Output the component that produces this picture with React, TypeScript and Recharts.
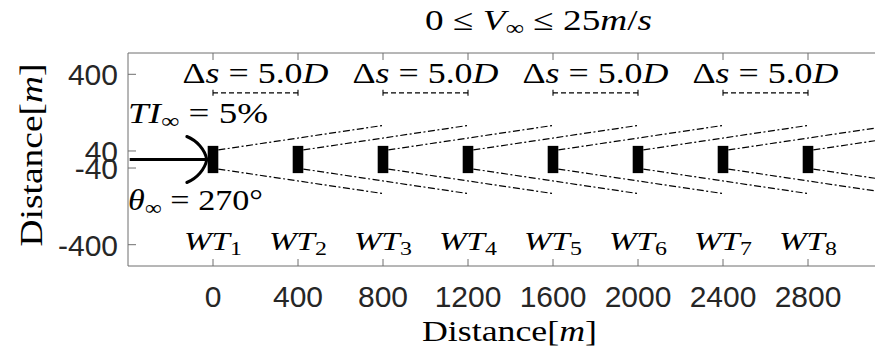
import React from 'react';
import { ComposedChart, Line, XAxis, YAxis, ReferenceArea, Scatter, Customized } from 'recharts';

// ---- data ----
const turbineX = [0, 400, 800, 1200, 1600, 2000, 2400, 2800];
const turbineIndex = ['1', '2', '3', '4', '5', '6', '7', '8'];
const xTicks = [0, 400, 800, 1200, 1600, 2000, 2400, 2800];
const yTicks = [-400, -40, 40, 400];
const xDomain = [-400, 3200];
const yDomain = [-500, 500];

const turbineHalfWidth = 25;
const turbineHalfHeight = 64;

const wakeStartOffset = 25;
const wakeEndOffset = 800;
const wakeStartHalf = 45;
const wakeEndHalf = 160;

const spacingPairs: [number, number][] = [
  [0, 400],
  [800, 1200],
  [1600, 2000],
  [2400, 2800],
];
const spacingValue = '5.0';
const bracketY = 313;
const bracketCap = 14;
const spacingLabelY = 358;
const turbineLabelY = -426;

const inflowShaft = [
  { x: -392, y: 0 },
  { x: -32, y: 0 },
];
const inflowTip = [{ x: -29, y: 0 }];

const tiLabel = [{ x: -400, y: 170 }];
const thetaLabel = [{ x: -400, y: -238 }];

// ---- styles ----
const AXIS = '#6f6f6f';
const TICKTXT = '#262626';
const SERIF = '"Liberation Serif", "Times New Roman", serif';
const SANS = '"Liberation Sans", Arial, Helvetica, sans-serif';

const BottomTick = (props: any) => {
  const { x, y, payload } = props;
  return (
    <g>
      <line x1={x} x2={x} y1={y} y2={y - 7} stroke={AXIS} strokeWidth={1} />
      <text x={x} y={y + 41} textAnchor="middle" fontFamily={SANS} fontSize={30} fill={TICKTXT}>
        {payload.value}
      </text>
    </g>
  );
};

const TopTick = (props: any) => {
  const { x, y } = props;
  return <line x1={x} x2={x} y1={y} y2={y + 7} stroke={AXIS} strokeWidth={1} />;
};

const LeftTick = (props: any) => {
  const { x, y, payload } = props;
  return (
    <g>
      <line x1={x} x2={x + 8} y1={y} y2={y} stroke={AXIS} strokeWidth={1} />
      <text x={x - 10} y={y + 11} textAnchor="end" fontFamily={SANS} fontSize={30} fill={TICKTXT}>
        {payload.value}
      </text>
    </g>
  );
};

const SpacingText = (props: any) => {
  const { cx, cy } = props;
  return (
    <text x={cx} y={cy} textAnchor="middle" fontFamily={SERIF} fontSize={29} fill="#000" textLength={146} lengthAdjust="spacingAndGlyphs">
      Δ<tspan fontStyle="italic">s</tspan>{' = ' + spacingValue}<tspan fontStyle="italic">D</tspan>
    </text>
  );
};

const TurbineText = (props: any) => {
  const { cx, cy, payload } = props;
  return (
    <text x={cx} y={cy} textAnchor="middle" fontFamily={SERIF} fontSize={25} fill="#000" textLength={58} lengthAdjust="spacingAndGlyphs">
      <tspan fontStyle="italic">WT</tspan>
      <tspan fontSize={18} dy={5}>{payload.sub}</tspan>
    </text>
  );
};

const TIText = (props: any) => {
  const { cx, cy } = props;
  return (
    <text x={cx} y={cy} textAnchor="start" fontFamily={SERIF} fontSize={30} fill="#000" textLength={140} lengthAdjust="spacingAndGlyphs">
      <tspan fontStyle="italic">TI</tspan>
      <tspan fontSize={21} dy={5}>∞</tspan>
      <tspan dy={-5}>{' = 5%'}</tspan>
    </text>
  );
};

const ThetaText = (props: any) => {
  const { cx, cy } = props;
  return (
    <text x={cx} y={cy} textAnchor="start" fontFamily={SERIF} fontSize={30} fill="#000" textLength={135} lengthAdjust="spacingAndGlyphs">
      <tspan fontStyle="italic">θ</tspan>
      <tspan fontSize={21} dy={5}>∞</tspan>
      <tspan dy={-5}>{' = 270°'}</tspan>
    </text>
  );
};

const ArrowHead = (props: any) => {
  const { cx, cy } = props;
  const d = `M${cx - 20},${cy - 23} C${cx - 10},${cy - 19} ${cx - 2},${cy - 10} ${cx},${cy} C${cx - 2},${cy + 10} ${cx - 10},${cy + 19} ${cx - 20},${cy + 23}`;
  return <path d={d} fill="none" stroke="#000" strokeWidth={3} strokeLinecap="round" />;
};

const Frame = () => (
  <g>
    <text x={425} y={30} fontFamily={SERIF} fontSize={30} fill="#000" textLength={227} lengthAdjust="spacingAndGlyphs">
      {'0 ≤ '}
      <tspan fontStyle="italic">V</tspan>
      <tspan fontSize={21} dy={5}>∞</tspan>
      <tspan dy={-5}>{' ≤ 25'}</tspan>
      <tspan fontStyle="italic">m</tspan>/<tspan fontStyle="italic">s</tspan>
    </text>
    <text x={422} y={341} fontFamily={SERIF} fontSize={29} fill="#000" textLength={175} lengthAdjust="spacingAndGlyphs">
      Distance[<tspan fontStyle="italic">m</tspan>]
    </text>
    <text x={42} y={155} transform="rotate(-90 42 155)" textAnchor="middle" fontFamily={SERIF} fontSize={31} fill="#000" textLength={183} lengthAdjust="spacingAndGlyphs">
      Distance[<tspan fontStyle="italic">m</tspan>]
    </text>
  </g>
);

export default function App() {
  const wakeLines: { key: string; data: { x: number; y: number }[] }[] = [];
  turbineX.forEach((t, i) => {
    [1, -1].forEach((s) => {
      wakeLines.push({
        key: `w${i}${s}`,
        data: [
          { x: t + wakeStartOffset, y: s * wakeStartHalf },
          { x: t + wakeEndOffset, y: s * wakeEndHalf },
        ],
      });
    });
  });
  const bracketLines: { key: string; data: { x: number; y: number }[]; dash?: string }[] = [];
  spacingPairs.forEach(([a, b], i) => {
    bracketLines.push({ key: `bh${i}`, data: [{ x: a, y: bracketY }, { x: b, y: bracketY }], dash: '5 3' });
    bracketLines.push({ key: `bl${i}`, data: [{ x: a, y: bracketY - bracketCap }, { x: a, y: bracketY + bracketCap }] });
    bracketLines.push({ key: `br${i}`, data: [{ x: b, y: bracketY - bracketCap }, { x: b, y: bracketY + bracketCap }] });
  });
  const spacingLabels = spacingPairs.map(([a, b]) => ({ x: (a + b) / 2, y: spacingLabelY }));
  const turbineLabels = turbineX.map((t, i) => ({ x: t, y: turbineLabelY, sub: turbineIndex[i] }));

  return (
    <div style={{ margin: -8, width: 883, height: 356, overflow: 'hidden', background: '#fff' }}>
      <ComposedChart width={900} height={356} margin={{ top: 52, right: 7, bottom: 89, left: 127 }}>
        <XAxis
          type="number"
          dataKey="x"
          domain={xDomain}
          ticks={xTicks}
          interval={0}
          allowDataOverflow
          height={1}
          tickSize={0}
          tickMargin={0}
          tickLine={false}
          axisLine={{ stroke: AXIS, strokeWidth: 1 }}
          tick={BottomTick}
        />
        <XAxis
          xAxisId="top"
          orientation="top"
          type="number"
          dataKey="x"
          domain={xDomain}
          ticks={xTicks}
          interval={0}
          allowDataOverflow
          height={1}
          tickSize={0}
          tickMargin={0}
          tickLine={false}
          axisLine={{ stroke: AXIS, strokeWidth: 1 }}
          tick={TopTick}
        />
        <YAxis
          type="number"
          dataKey="y"
          domain={yDomain}
          ticks={yTicks}
          interval={0}
          allowDataOverflow
          width={1}
          tickSize={0}
          tickMargin={0}
          tickLine={false}
          axisLine={{ stroke: AXIS, strokeWidth: 1 }}
          tick={LeftTick}
        />
        {turbineX.map((t, i) => (
          <ReferenceArea
            key={`t${i}`}
            x1={t - turbineHalfWidth}
            x2={t + turbineHalfWidth}
            y1={-turbineHalfHeight}
            y2={turbineHalfHeight}
            fill="#000"
            fillOpacity={1}
            stroke="none"
            ifOverflow="visible"
          />
        ))}
        {wakeLines.map((w) => (
          <Line
            key={w.key}
            data={w.data}
            dataKey="y"
            type="linear"
            stroke="#000"
            strokeWidth={1.2}
            strokeDasharray="7 2.5 2 2.5"
            dot={false}
            activeDot={false}
            isAnimationActive={false}
          />
        ))}
        {bracketLines.map((b) => (
          <Line
            key={b.key}
            data={b.data}
            dataKey="y"
            type="linear"
            stroke="#000"
            strokeWidth={1.1}
            strokeDasharray={b.dash}
            dot={false}
            activeDot={false}
            isAnimationActive={false}
          />
        ))}
        <Line
          data={inflowShaft}
          dataKey="y"
          type="linear"
          stroke="#000"
          strokeWidth={3}
          dot={false}
          activeDot={false}
          isAnimationActive={false}
        />
        <Scatter data={inflowTip} dataKey="y" shape={ArrowHead} isAnimationActive={false} />
        <Scatter data={spacingLabels} dataKey="y" shape={SpacingText} isAnimationActive={false} />
        <Scatter data={turbineLabels} dataKey="y" shape={TurbineText} isAnimationActive={false} />
        <Scatter data={tiLabel} dataKey="y" shape={TIText} isAnimationActive={false} />
        <Scatter data={thetaLabel} dataKey="y" shape={ThetaText} isAnimationActive={false} />
        <Customized component={Frame} />
      </ComposedChart>
    </div>
  );
}
